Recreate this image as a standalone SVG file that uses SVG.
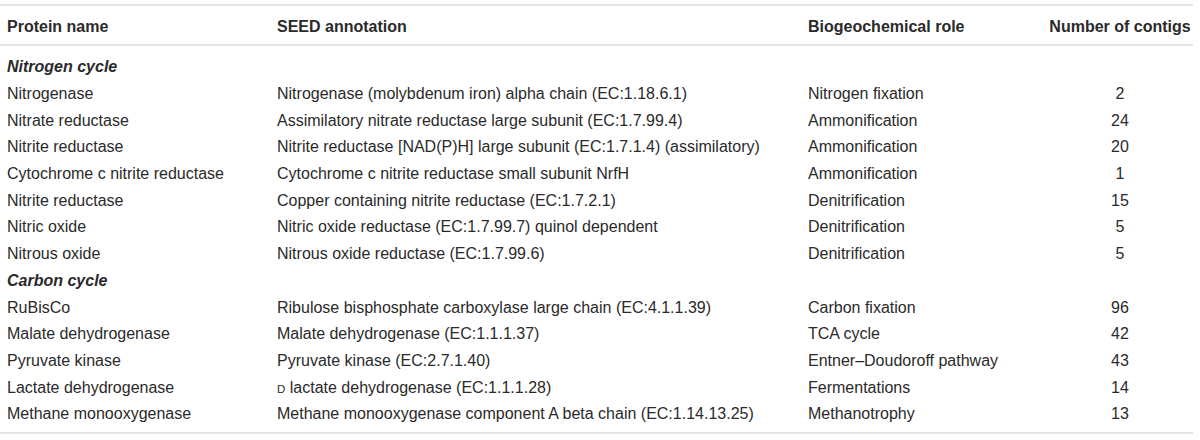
<svg xmlns="http://www.w3.org/2000/svg" width="1200" height="440" viewBox="0 0 1200 440">
<style>
text{font-family:"Liberation Sans",Arial,sans-serif;font-size:16px;fill:#2a2a2a}
.h{font-weight:bold}
.s{font-weight:bold;font-style:italic}
.n{text-anchor:middle}
.rule{stroke:#dcdcdc;stroke-width:1.6}
</style>
<rect width="1200" height="440" fill="#fff"/>
<g id="rules">
<line class="rule" x1="0" y1="5" x2="1193" y2="5"/>
<line class="rule" x1="0" y1="45" x2="1193" y2="45"/>
<line class="rule" x1="0" y1="433" x2="1193" y2="433"/>
</g>
<g id="header">
<text class="h" x="7" y="32">Protein name</text>
<text class="h" x="277" y="32">SEED annotation</text>
<text class="h" x="808" y="32">Biogeochemical role</text>
<text class="h n" x="1120" y="32">Number of contigs</text>
</g>
<g id="nitrogen">
<text class="s" x="7" y="72">Nitrogen cycle</text>
<text x="7" y="99">Nitrogenase</text>
<text x="277" y="99">Nitrogenase (molybdenum iron) alpha chain (EC:1.18.6.1)</text>
<text x="808" y="99">Nitrogen fixation</text>
<text class="n" x="1120" y="99">2</text>
<text x="7" y="125.5">Nitrate reductase</text>
<text x="277" y="125.5">Assimilatory nitrate reductase large subunit (EC:1.7.99.4)</text>
<text x="808" y="125.5">Ammonification</text>
<text class="n" x="1120" y="125.5">24</text>
<text x="7" y="152">Nitrite reductase</text>
<text x="277" y="152">Nitrite reductase [NAD(P)H] large subunit (EC:1.7.1.4) (assimilatory)</text>
<text x="808" y="152">Ammonification</text>
<text class="n" x="1120" y="152">20</text>
<text x="7" y="179">Cytochrome c nitrite reductase</text>
<text x="277" y="179">Cytochrome c nitrite reductase small subunit NrfH</text>
<text x="808" y="179">Ammonification</text>
<text class="n" x="1120" y="179">1</text>
<text x="7" y="205.5">Nitrite reductase</text>
<text x="277" y="205.5">Copper containing nitrite reductase (EC:1.7.2.1)</text>
<text x="808" y="205.5">Denitrification</text>
<text class="n" x="1120" y="205.5">15</text>
<text x="7" y="232">Nitric oxide</text>
<text x="277" y="232">Nitric oxide reductase (EC:1.7.99.7) quinol dependent</text>
<text x="808" y="232">Denitrification</text>
<text class="n" x="1120" y="232">5</text>
<text x="7" y="259">Nitrous oxide</text>
<text x="277" y="259">Nitrous oxide reductase (EC:1.7.99.6)</text>
<text x="808" y="259">Denitrification</text>
<text class="n" x="1120" y="259">5</text>
</g>
<g id="carbon">
<text class="s" x="7" y="286">Carbon cycle</text>
<text x="7" y="312.5">RuBisCo</text>
<text x="277" y="312.5">Ribulose bisphosphate carboxylase large chain (EC:4.1.1.39)</text>
<text x="808" y="312.5">Carbon fixation</text>
<text class="n" x="1120" y="312.5">96</text>
<text x="7" y="339">Malate dehydrogenase</text>
<text x="277" y="339">Malate dehydrogenase (EC:1.1.1.37)</text>
<text x="808" y="339">TCA cycle</text>
<text class="n" x="1120" y="339">42</text>
<text x="7" y="366">Pyruvate kinase</text>
<text x="277" y="366">Pyruvate kinase (EC:2.7.1.40)</text>
<text x="808" y="366">Entner–Doudoroff pathway</text>
<text class="n" x="1120" y="366">43</text>
<text x="7" y="392.5">Lactate dehydrogenase</text>
<text x="277" y="392.5"><tspan font-size="11.5px">D</tspan> lactate dehydrogenase (EC:1.1.1.28)</text>
<text x="808" y="392.5">Fermentations</text>
<text class="n" x="1120" y="392.5">14</text>
<text x="7" y="419">Methane monooxygenase</text>
<text x="277" y="419">Methane monooxygenase component A beta chain (EC:1.14.13.25)</text>
<text x="808" y="419">Methanotrophy</text>
<text class="n" x="1120" y="419">13</text>
</g>
</svg>
